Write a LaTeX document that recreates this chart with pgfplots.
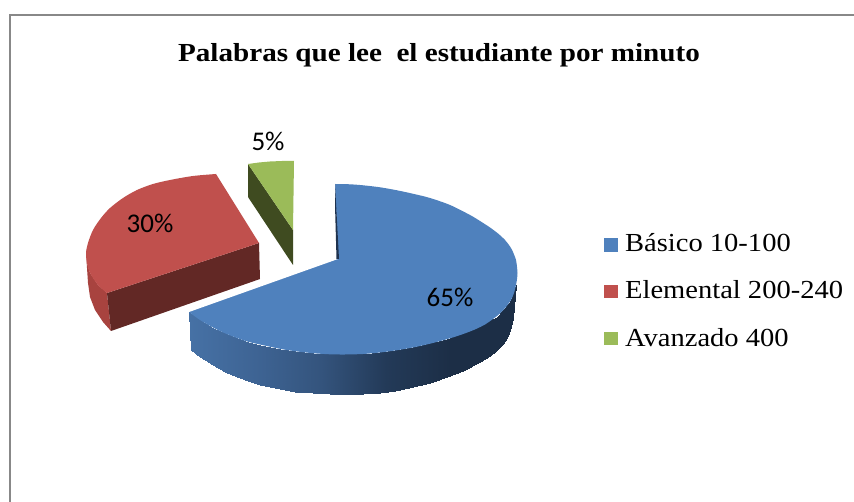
\documentclass[border=0pt]{standalone}
\usepackage{fontspec}
\setmainfont{Liberation Serif}
\newfontfamily\titulo[FakeStretch=1.12]{Liberation Serif}
\newfontfamily\leyenda[FakeStretch=1.097]{Liberation Serif}
\newfontfamily\lab{Carlito}
\usepackage{pgfplots}
\pgfplotsset{compat=1.18}
\definecolor{azul}{RGB}{79,129,189}
\definecolor{azuldark}{RGB}{30,50,78}
\definecolor{rojo}{RGB}{192,80,77}
\definecolor{rojoside}{RGB}{168,67,63}
\definecolor{rojodark}{RGB}{98,40,37}
\definecolor{verde}{RGB}{155,187,89}
\definecolor{verdedark}{RGB}{63,75,32}
\definecolor{marco}{RGB}{136,136,136}
\begin{document}
\begin{tikzpicture}
\begin{axis}[
    scale only axis,
    width=854pt, height=502pt,
    xmin=0, xmax=854, ymin=0, ymax=502,
    y dir=reverse,
    hide axis,
    colormap={ladoazul}{rgb255=(70,113,165) rgb255=(62,100,148) rgb255=(52,84,125) rgb255=(35,58,88) rgb255=(28,46,70) rgb255=(28,46,70)},
    point meta min=190, point meta max=517,
]
% white page, keeps the picture at full size
\addplot[fill=white, draw=none] coordinates {(0,0)(854,0)(854,502)(0,502)} --cycle;
% frame
\addplot[draw=marco, line width=2pt] coordinates {(9.5,502)(9.5,15.5)(854,15.5)};

% blue slice, outer wall
\addplot[surf, shader=interp, mesh/rows=27, mesh/cols=2, point meta=\thisrow{x}] table {
x y
189 312
191 350
200 320.5
200 357
213 328
213 365.5
225 333.3
225 372
237 338
237 377.5
248 341.7
248 381.5
260 345
260 385
280 349
280 389.5
295 351.2
295 391.7
313 353.2
313 393.3
330 354.3
330 394.3
345 354.5
345 394.7
363 354
363 394.2
380 352.5
380 392.8
395 350.5
395 390.8
413 347.5
413 387.4
430 343.5
430 383
447 339.5
447 377.5
463 333.5
463 371
480 326.5
480 362.5
490 320.5
490 356
497 317
497 350.5
503 310
503 344.5
508 304
508 336.5
510.5 300
511 327
512 297
513 318
516 285
516 285
};
% blue slice, top; the smooth fill closes across the gap, which is painted white again
\addplot[fill=azul, draw=none, smooth, tension=0.5] coordinates {
  (335,184)(350,184.3)(363,185.3)(380,187.3)(397,190.3)(414,194)(430,198)(450,205)(470,215)(480,221)
  (490,227.5)(498,233.5)(505,240)(510,246.5)(513,252)(516,260)(517,267)(517.5,273)(517,279)(516,285)
  (514,293)(511,300)(506,307)(500,313.5)(493,319)(485,324.5)(476,329)(466,333)(455,336.8)(443,340.3)
  (430,343.7)(413,347.5)(395,350.5)(380,352.5)(363,354)(345,354.5)(330,354.3)(313,353.2)(295,351.2)(280,348.8)
  (260,344.5)(248,341.7)(237,338)(225,333.3)(213,327.5)(200,320)(189,312)} --cycle;
\addplot[fill=white, draw=none] coordinates {(335,184)(338,259)(189,312)(180,300)(330,178)} --cycle;
\addplot[fill=azuldark, draw=none] coordinates {(335,184)(335,205)(336.5,259)(339,259)} --cycle;

% green slice
\addplot[fill=verdedark, draw=none] coordinates {(248,164)(293,230)(293,265)(248,197)} --cycle;
\addplot[fill=verde, draw=none] coordinates {(248,164)(259,162.5)(270,161.5)(282,161)(294,161)(293,230)} --cycle;

% red slice
\addplot[fill=rojoside, draw=none] coordinates {(86,253)(87,263)(90,273)(98,285)(107,293)(111,331)(103,322)(95,310)(90,297)(88,283)} --cycle;
\addplot[fill=rojodark, draw=none] coordinates {(107,293)(259,243)(260,279)(111,331)} --cycle;
\addplot[fill=rojo, draw=none, smooth, tension=0.5] coordinates {(216,174)(193,176)(170,180)(153,184)(137,190)(123,198)(110,208)(101,218)(93,230)(88,243)(86,253)(87,263)(90,273)(98,285)(107,293)} --cycle;
\addplot[fill=rojo, draw=none] coordinates {(216,174)(259,243)(107,293)(95,265)(95,240)(130,200)(170,185)} --cycle;

% legend keys
\addplot[fill=azul, draw=none] coordinates {(604,238)(618,238)(618,252)(604,252)} --cycle;
\addplot[fill=rojo, draw=none] coordinates {(604,285)(618,285)(618,298)(604,298)} --cycle;
\addplot[fill=verde, draw=none] coordinates {(604,332)(618,332)(618,345)(604,345)} --cycle;

% texts
\node[anchor=base, inner sep=0pt] at (axis cs:439,62) {\titulo\fontsize{26}{28}\selectfont\bfseries Palabras que lee\ \ el estudiante por minuto};
\node[anchor=base west, inner sep=0pt] at (axis cs:625,252) {\leyenda\fontsize{26}{28}\selectfont Básico 10-100};
\node[anchor=base west, inner sep=0pt] at (axis cs:625,299) {\leyenda\fontsize{26}{28}\selectfont Elemental 200-240};
\node[anchor=base west, inner sep=0pt] at (axis cs:625,347) {\leyenda\fontsize{26}{28}\selectfont Avanzado 400};
\node[inner sep=0pt] at (axis cs:268,141) {\lab\fontsize{27}{29}\selectfont 5\%};
\node[inner sep=0pt] at (axis cs:150,223) {\lab\fontsize{27}{29}\selectfont 30\%};
\node[inner sep=0pt] at (axis cs:450,297) {\lab\fontsize{27}{29}\selectfont 65\%};
\end{axis}
\end{tikzpicture}
\end{document}
